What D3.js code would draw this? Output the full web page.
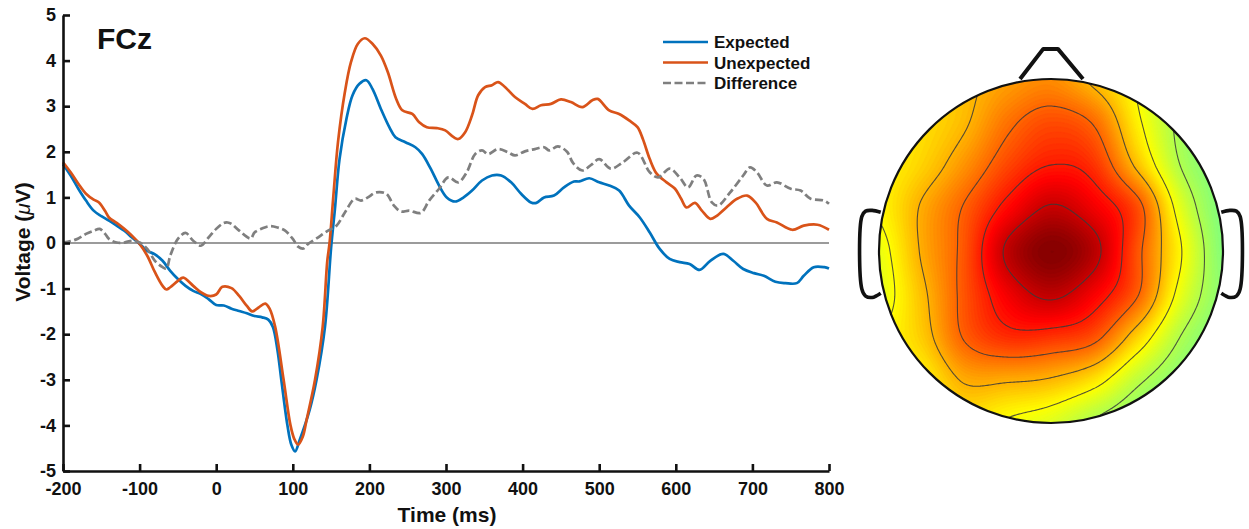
<!DOCTYPE html>
<html lang="en">
<head>
<meta charset="UTF-8">
<title>FCz ERP and scalp map</title>
<script src="https://d3js.org/d3.v7.min.js"></script>
<style>
  body { margin: 0; background: #fff; }
  svg { font-family: "Liberation Sans", Arial, sans-serif; }
  svg text { font-weight: bold; fill: #111; }
</style>
</head>
<body>
<svg width="1249" height="529"></svg>
<script>
// ERP at FCz, [time ms, voltage uV]
const expectedPts = [[-200,1.73],[-190,1.48],[-180,1.19],[-170,0.93],[-160,0.71],[-150,0.59],[-140,0.49],[-130,0.38],[-120,0.27],[-110,0.12],[-100,-0.02],[-90,-0.17],[-80,-0.25],[-70,-0.39],[-60,-0.61],[-50,-0.79],[-40,-0.94],[-30,-1.05],[-20,-1.12],[-10,-1.23],[0,-1.36],[10,-1.37],[20,-1.44],[30,-1.49],[40,-1.54],[50,-1.60],[60,-1.63],[68,-1.68],[74,-1.84],[80,-2.35],[85,-3.0],[93,-4.0],[98,-4.42],[103,-4.57],[109,-4.32],[122,-3.66],[131,-3.0],[142,-1.84],[150,-0.1],[155,0.75],[161,1.84],[170,2.72],[178,3.24],[187,3.49],[196,3.57],[204,3.38],[215,2.94],[226,2.54],[234,2.32],[247,2.21],[260,2.10],[269,1.95],[280,1.63],[291,1.26],[301,1.00],[312,0.91],[323,1.00],[334,1.15],[347,1.37],[360,1.48],[372,1.48],[385,1.33],[398,1.08],[411,0.89],[418,0.88],[428,1.00],[441,1.04],[454,1.22],[467,1.35],[474,1.35],[487,1.42],[500,1.33],[513,1.26],[526,1.15],[539,0.82],[553,0.56],[566,0.23],[579,-0.13],[592,-0.35],[605,-0.42],[618,-0.46],[631,-0.59],[645,-0.39],[662,-0.24],[675,-0.39],[688,-0.57],[702,-0.66],[715,-0.72],[730,-0.85],[743,-0.88],[758,-0.88],[767,-0.72],[780,-0.53],[794,-0.53],[800,-0.56]];

const unexpectedPts = [[-200,1.77],[-190,1.55],[-180,1.30],[-170,1.08],[-160,0.95],[-153,0.89],[-145,0.70],[-140,0.56],[-130,0.44],[-120,0.31],[-110,0.16],[-100,-0.02],[-90,-0.28],[-80,-0.64],[-70,-0.94],[-65,-1.02],[-60,-0.97],[-50,-0.83],[-43,-0.76],[-30,-0.94],[-20,-1.08],[-10,-1.16],[0,-1.13],[8,-0.96],[20,-0.99],[30,-1.16],[40,-1.38],[47,-1.50],[55,-1.42],[64,-1.33],[70,-1.45],[77,-1.84],[88,-3.0],[97,-4.0],[102,-4.3],[107,-4.42],[113,-4.25],[118,-3.88],[129,-3.0],[139,-1.84],[145,-0.4],[148,0.0],[153,1.04],[159,2.21],[168,3.31],[176,3.97],[185,4.37],[194,4.49],[204,4.37],[215,4.11],[224,3.75],[235,3.16],[243,2.91],[256,2.83],[265,2.65],[275,2.54],[288,2.52],[299,2.47],[310,2.32],[316,2.28],[325,2.43],[334,2.80],[342,3.24],[351,3.42],[360,3.46],[368,3.53],[377,3.42],[390,3.20],[403,3.05],[413,2.94],[424,3.02],[437,3.05],[450,3.15],[463,3.09],[478,2.98],[491,3.13],[498,3.16],[513,2.91],[526,2.83],[539,2.69],[550,2.54],[557,2.28],[566,1.84],[575,1.52],[588,1.33],[599,1.19],[607,0.97],[614,0.78],[625,0.88],[634,0.71],[645,0.53],[653,0.59],[666,0.78],[680,0.97],[693,1.04],[704,0.89],[719,0.53],[732,0.45],[752,0.29],[767,0.38],[785,0.40],[800,0.29]];

const differencePts = [[-200,0.01],[-190,0.04],[-180,0.10],[-170,0.20],[-160,0.27],[-152,0.31],[-145,0.20],[-140,0.09],[-130,0.01],[-120,0.01],[-110,0.05],[-100,0.01],[-90,-0.13],[-80,-0.39],[-70,-0.53],[-65,-0.56],[-60,-0.28],[-50,0.09],[-40,0.22],[-30,0.05],[-20,-0.06],[-10,0.12],[0,0.31],[10,0.44],[15,0.45],[20,0.42],[30,0.27],[45,0.10],[50,0.23],[60,0.32],[70,0.37],[80,0.34],[90,0.27],[100,0.09],[107,-0.08],[114,-0.12],[120,-0.02],[131,0.10],[144,0.25],[157,0.38],[168,0.67],[181,0.97],[189,0.93],[198,1.00],[209,1.11],[222,1.08],[232,0.82],[241,0.69],[252,0.71],[267,0.66],[278,0.93],[291,1.19],[303,1.44],[316,1.33],[327,1.55],[338,1.95],[347,2.03],[355,1.95],[368,2.06],[381,1.99],[390,1.92],[403,2.01],[416,2.06],[428,2.10],[435,2.03],[446,2.12],[458,2.0],[466,1.75],[478,1.59],[490,1.72],[500,1.84],[515,1.63],[531,1.77],[550,1.98],[566,1.55],[577,1.44],[592,1.63],[605,1.44],[616,1.22],[627,1.48],[636,1.41],[647,0.89],[655,0.82],[671,1.11],[688,1.48],[697,1.66],[706,1.55],[719,1.26],[732,1.33],[750,1.19],[763,1.15],[776,0.97],[794,0.93],[800,0.86]];

const seriesNames = ["Expected", "Unexpected", "Difference"];
const xTicks = [-200, -100, 0, 100, 200, 300, 400, 500, 600, 700, 800];
const yTicks = [-5, -4, -3, -2, -1, 0, 1, 2, 3, 4, 5];

// scalp map values on a 9x9 grid spanning the head square (-1..1), rows top (front) to bottom
const topoCoords = [-1, -0.75, -0.5, -0.25, 0, 0.25, 0.5, 0.75, 1];
const topoGrid = [
  [1.10, 1.30, 1.50, 1.75, 1.90, 1.50, 0.95, 0.35, 0.00],
  [1.10, 1.25, 1.55, 2.10, 2.40, 2.15, 1.10, 0.30, 0.00],
  [1.05, 1.35, 1.85, 2.45, 2.80, 2.60, 1.50, 0.40, 0.00],
  [1.05, 1.65, 2.25, 2.95, 3.45, 3.10, 2.40, 0.80, 0.00],
  [0.85, 1.65, 2.35, 3.50, 3.95, 3.55, 2.35, 1.05, 0.05],
  [0.80, 1.50, 2.35, 3.10, 3.50, 3.05, 2.25, 0.85, 0.10],
  [1.00, 1.40, 2.25, 2.65, 2.60, 2.35, 1.35, 0.40, 0.00],
  [1.00, 1.10, 1.65, 1.65, 1.55, 1.20, 0.50, 0.10, 0.00],
  [1.00, 1.10, 1.20, 0.95, 0.75, 0.35, 0.10, 0.00, 0.00]
];
const contourLevels = [0.4, 1.0, 1.6, 2.2, 2.8, 3.4];
const colorLimit = 4.0;

const svg = d3.select("svg");
svg.append("rect").attr("width", 1249).attr("height", 529).attr("fill", "#fff");

// ---------- ERP plot ----------
const x = d3.scaleLinear().domain([-200, 800]).range([63, 829]);
const y = d3.scaleLinear().domain([-5, 5]).range([471, 15]);

svg.append("line")
  .attr("x1", x(-200)).attr("x2", x(800))
  .attr("y1", y(0)).attr("y2", y(0))
  .attr("stroke", "#7a7a7a").attr("stroke-width", 1.5);

const line = d3.line()
  .x(d => x(d[0]))
  .y(d => y(d[1]))
  .curve(d3.curveCatmullRom.alpha(0.5));

const styles = [
  { data: expectedPts, color: "#0072BD", dash: null },
  { data: unexpectedPts, color: "#D95319", dash: null },
  { data: differencePts, color: "#7f7f7f", dash: "8,3.5" }
];

styles.forEach(s => {
  svg.append("path")
    .datum(s.data)
    .attr("d", line)
    .attr("fill", "none")
    .attr("stroke", s.color)
    .attr("stroke-width", 2.7)
    .attr("stroke-dasharray", s.dash)
    .attr("stroke-linejoin", "round");
});

const xAxis = svg.append("g")
  .attr("transform", `translate(0,${y(-5)})`)
  .call(d3.axisBottom(x).tickValues(xTicks).tickFormat(d => String(d))
    .tickSizeInner(-7).tickSizeOuter(0).tickPadding(11));

const yAxis = svg.append("g")
  .attr("transform", `translate(${x(-200)},0)`)
  .call(d3.axisLeft(y).tickValues(yTicks).tickFormat(d => String(d))
    .tickSizeInner(-7).tickSizeOuter(0).tickPadding(7));

[xAxis, yAxis].forEach(g => {
  g.select(".domain").attr("stroke", "#111").attr("stroke-width", 2.6);
  g.selectAll(".tick line").attr("stroke", "#111").attr("stroke-width", 2.6);
  g.selectAll(".tick text")
    .attr("font-family", "'Liberation Sans', Arial, sans-serif")
    .attr("font-size", 18).attr("font-weight", "bold").attr("fill", "#111");
});

svg.append("text")
  .attr("x", 447).attr("y", 522)
  .attr("text-anchor", "middle")
  .attr("font-size", 21)
  .text("Time (ms)");

const yl = svg.append("text")
  .attr("transform", "translate(30,242) rotate(-90)")
  .attr("text-anchor", "middle")
  .attr("font-size", 21);
yl.append("tspan").text("Voltage (");
yl.append("tspan").attr("font-style", "italic").attr("font-weight", "normal").text("\u03bc");
yl.append("tspan").text("V)");

svg.append("text")
  .attr("x", 97).attr("y", 49)
  .attr("font-size", 30)
  .text("FCz");

// legend
const legend = svg.append("g").attr("transform", "translate(663,42)");
seriesNames.forEach((name, i) => {
  const row = legend.append("g").attr("transform", `translate(0,${i * 20.5})`);
  row.append("line")
    .attr("x1", 0).attr("x2", 45)
    .attr("stroke", styles[i].color)
    .attr("stroke-width", 2.7)
    .attr("stroke-dasharray", styles[i].dash);
  row.append("text")
    .attr("x", 51).attr("y", 0)
    .attr("dy", "0.36em")
    .attr("font-size", 17)
    .text(name);
});

// ---------- scalp map ----------
const cx = 1051, cy = 251, R = 172;
const N = 240;

function cubic(p0, p1, p2, p3, t) {
  return p1 + 0.5 * t * (p2 - p0 + t * (2 * p0 - 5 * p1 + 4 * p2 - p3 + t * (3 * (p1 - p2) + p3 - p0)));
}
const gn = topoCoords.length;
const gstep = topoCoords[1] - topoCoords[0];
const gv = (r, c) => topoGrid[Math.max(0, Math.min(gn - 1, r))][Math.max(0, Math.min(gn - 1, c))];
function sampleTopo(nx, ny) {
  const gx = (nx - topoCoords[0]) / gstep, gy = (ny - topoCoords[0]) / gstep;
  const i = Math.max(0, Math.min(gn - 2, Math.floor(gx)));
  const j = Math.max(0, Math.min(gn - 2, Math.floor(gy)));
  const fx = gx - i, fy = gy - j;
  const rows = [-1, 0, 1, 2].map(dj =>
    cubic(gv(j + dj, i - 1), gv(j + dj, i), gv(j + dj, i + 1), gv(j + dj, i + 2), fx));
  return cubic(rows[0], rows[1], rows[2], rows[3], fy);
}

const field = new Float64Array(N * N);
for (let j = 0; j < N; j++) {
  for (let i = 0; i < N; i++) {
    field[j * N + i] = sampleTopo(-1 + 2 * (i + 0.5) / N, -1 + 2 * (j + 0.5) / N);
  }
}

function jet(t) {
  const c = v => Math.max(0, Math.min(1, v));
  return d3.rgb(255 * c(1.5 - Math.abs(4 * t - 3)),
                255 * c(1.5 - Math.abs(4 * t - 2)),
                255 * c(1.5 - Math.abs(4 * t - 1)));
}
const toT = d3.scaleLinear().domain([-colorLimit, colorLimit]).range([0, 1]).clamp(true);

const gridPath = d3.geoPath(d3.geoTransform({
  point: function(px, py) {
    this.stream.point(cx + (px / N * 2 - 1) * R, cy + (py / N * 2 - 1) * R);
  }
}));

svg.append("clipPath").attr("id", "headclip")
  .append("circle").attr("cx", cx).attr("cy", cy).attr("r", R);

const topo = svg.append("g").attr("clip-path", "url(#headclip)");
const fillStep = 0.05;
const fillLevels = d3.range(-0.4, 4.2, fillStep);
topo.append("circle").attr("cx", cx).attr("cy", cy).attr("r", R)
  .attr("fill", jet(toT(fillLevels[0])));

const bands = d3.contours().size([N, N]).thresholds(fillLevels)(field);
topo.selectAll("path.band")
  .data(bands)
  .join("path")
  .attr("class", "band")
  .attr("d", gridPath)
  .attr("fill", d => jet(toT(d.value + fillStep / 2)))
  .attr("stroke", d => jet(toT(d.value + fillStep / 2)))
  .attr("stroke-width", 0.6);

const isolines = d3.contours().size([N, N]).thresholds(contourLevels)(field);
topo.selectAll("path.iso")
  .data(isolines)
  .join("path")
  .attr("class", "iso")
  .attr("d", gridPath)
  .attr("fill", "none")
  .attr("stroke", "#3a3a3a")
  .attr("stroke-opacity", 0.85)
  .attr("stroke-width", 1.1);

// head outline, nose and ears (in head radius units)
const hx = d3.scaleLinear().domain([-1, 1]).range([cx - R, cx + R]);
const hy = d3.scaleLinear().domain([-1, 1]).range([cy - R, cy + R]);
const outline = d3.line().x(d => hx(d[0])).y(d => hy(d[1]));
const nose = [[-0.18, -1.0], [-0.045, -1.175], [0.04, -1.175], [0.186, -1.0]];
const ear = [[0.99, -0.225], [1.04, -0.236], [1.078, -0.232], [1.1, -0.2], [1.1, 0.22], [1.078, 0.262], [1.04, 0.27], [0.99, 0.245]];

svg.append("circle").attr("cx", cx).attr("cy", cy).attr("r", R)
  .attr("fill", "none").attr("stroke", "#111").attr("stroke-width", 2.2);
svg.append("path").attr("d", outline(nose))
  .attr("fill", "none").attr("stroke", "#111").attr("stroke-width", 4)
  .attr("stroke-linejoin", "round");
const earLine = d3.line().x(d => hx(d[0])).y(d => hy(d[1])).curve(d3.curveCatmullRom);
[1, -1].forEach(side => {
  svg.append("path")
    .attr("d", earLine(ear.map(p => [p[0] * side, p[1]])))
    .attr("fill", "none").attr("stroke", "#111").attr("stroke-width", 3.6)
    .attr("stroke-linejoin", "round");
});
</script>
</body>
</html>
